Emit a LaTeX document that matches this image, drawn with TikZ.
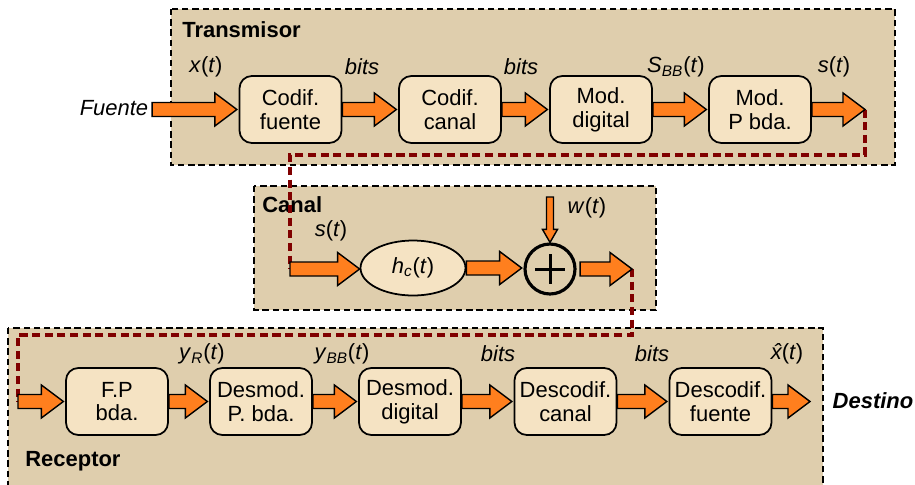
\documentclass[tikz,border=0pt]{standalone}
\usepackage{fontspec}
\setmainfont{Liberation Sans}
\usetikzlibrary{calc,shapes.geometric}
\definecolor{bgtan}{RGB}{223,206,173}
\definecolor{blkfill}{RGB}{245,227,195}
\definecolor{arrorange}{RGB}{255,127,30}
\definecolor{linkred}{RGB}{128,0,0}
\begin{document}
\begin{tikzpicture}[x=0.02cm,y=-0.02cm,
  font=\fontsize{12.5}{13.5}\selectfont,
  blk/.style={draw, line width=1pt, rounded corners=7pt, fill=blkfill,
    minimum width=2.04cm, minimum height=1.34cm, align=center, inner sep=0pt},
  grp/.style={draw, dash pattern=on 3.6pt off 2.2pt, line width=0.9pt, fill=bgtan},
  link/.style={draw=linkred, line width=2pt, dash pattern=on 4.6pt off 2.6pt},
  lbl/.style={inner sep=0pt},
  fat/.style={draw=black, line width=0.8pt, fill=arrorange, line join=miter,
    to path={let \p1=(\tikztostart), \p2=(\tikztotarget) in
      (\x1,\y1+0.14cm) -- (\x2-0.44cm,\y1+0.14cm) -- (\x2-0.44cm,\y1+0.33cm)
      -- (\x2,\y1) -- (\x2-0.44cm,\y1-0.33cm) -- (\x2-0.44cm,\y1-0.14cm)
      -- (\x1,\y1-0.14cm) -- cycle}},
  fatv/.style={draw=black, line width=0.8pt, fill=arrorange, line join=miter,
    to path={let \p1=(\tikztostart), \p2=(\tikztotarget) in
      (\x1-0.07cm,\y1) -- (\x1-0.07cm,\y2+0.26cm) -- (\x1-0.15cm,\y2+0.26cm)
      -- (\x1,\y2) -- (\x1+0.15cm,\y2+0.26cm) -- (\x1+0.07cm,\y2+0.26cm)
      -- (\x1+0.07cm,\y1) -- cycle}}
]
\useasboundingbox (0,0) rectangle (915,484);
\fill[white] (0,0) rectangle (915,484);

% group boxes
\draw[grp] (171,9) rectangle (895,165);
\draw[grp] (254,186) rectangle (656,310);
\draw[grp] (8,328) rectangle (823,492);

\node[lbl, anchor=west] (ttx) at (182,29.5) {\textbf{Transmisor}};
\node[lbl, anchor=west] (tch) at (262,205) {\textbf{Canal}};
\node[lbl, anchor=west] (trx) at (25,461) {\textbf{Receptor}};

% transmitter blocks
\node[blk] (cf) at (290.5,109.5) {Codif.\\fuente};
\node[blk] (cc) at (450,109.5) {Codif.\\canal};
\node[blk] (md) at (601,109.5) {Mod.\\digital};
\node[blk] (mp) at (760,109.5) {Mod.\\P bda.};
\node[lbl] (src) at (114,108) {\textit{Fuente}};
\coordinate (txout) at (865,109.5);

% channel
\coordinate (chin) at (290,269);
\node[ellipse, draw, line width=1pt, fill=blkfill, minimum width=2.1cm,
  minimum height=1.1cm, inner sep=0pt] (hc) at (413,268)
  {\textit{h}\textsubscript{\textit{c}}(\textit{t})};
\node[circle, draw, line width=1.8pt, minimum size=1cm, inner sep=0pt] (sum) at (550,269) {};
\draw[line width=1.7pt] ($(sum.center)+(-15,0)$) -- ($(sum.center)+(15,0)$);
\draw[line width=1.7pt] ($(sum.center)+(0,-15)$) -- ($(sum.center)+(0,15)$);
\coordinate (wtop) at (550,197);
\coordinate (chout) at (632,269);

% receiver blocks
\node[blk] (fp) at (117,401.5) {F.P\\bda.};
\node[blk] (dp) at (261,401.5) {Desmod.\\P. bda.};
\node[blk] (dd) at (410,401.5) {Desmod.\\digital};
\node[blk] (dc) at (565.5,401.5) {Descodif.\\canal};
\node[blk] (df) at (720.5,401.5) {Descodif.\\fuente};
\coordinate (rxin) at (18,401.5);
\coordinate (rxout) at (810,401.5);
\node[lbl] (dst) at (873,401) {\textbf{\textit{Destino}}};

% dashed links
\draw[link] (txout) -- ++(0,45.5) -| (chin);
\draw[link] (chout) -- ++(0,66) -| (rxin);

% arrows transmitter
\draw[fat] ([xshift=2pt]src.east |- cf.west) to ([xshift=-1pt]cf.west);
\draw[fat] (cf.east) to ([xshift=-1pt]cc.west);
\draw[fat] (cc.east) to ([xshift=-1pt]md.west);
\draw[fat] (md.east) to ([xshift=-1pt]mp.west);
\draw[fat] (mp.east) to (txout);

% arrows channel
\draw[fat] (chin) to (hc.west);
\draw[fat] (hc.east) to ([xshift=-1pt]sum.west);
\draw[fat] ([xshift=2pt]sum.east) to (chout);
\draw[fatv] (wtop) to (sum.north);

% arrows receiver
\draw[fat] (rxin) to ([xshift=-1pt]fp.west);
\draw[fat] (fp.east) to ([xshift=-1pt]dp.west);
\draw[fat] (dp.east) to ([xshift=-1pt]dd.west);
\draw[fat] (dd.east) to ([xshift=-1pt]dc.west);
\draw[fat] (dc.east) to ([xshift=-1pt]df.west);
\draw[fat] (df.east) to (rxout);

% labels
\node[lbl] (l1) at (206,67) {\textit{x}(\textit{t})};
\node[lbl] (l2) at (362,67) {\textit{bits}};
\node[lbl] (l3) at (521,67) {\textit{bits}};
\node[lbl] (l4) at (676,67) {\textit{S}\textsubscript{\textit{BB}}(\textit{t})};
\node[lbl] (l5) at (834,67) {\textit{s}(\textit{t})};
\node[lbl] (l6) at (331,231) {\textit{s}(\textit{t})};
\node[lbl] (l7) at (587,208) {\textit{w}(\textit{t})};
\node[lbl] (l8) at (202,354) {\textit{y}\textsubscript{\textit{R}}(\textit{t})};
\node[lbl] (l9) at (342,354) {\textit{y}\textsubscript{\textit{BB}}(\textit{t})};
\node[lbl] (l10) at (498,354) {\textit{bits}};
\node[lbl] (l11) at (652,354) {\textit{bits}};
\node[lbl] (l12) at (787,354) {{\itshape x^^^^0302}(\textit{t})};
\end{tikzpicture}
\end{document}
